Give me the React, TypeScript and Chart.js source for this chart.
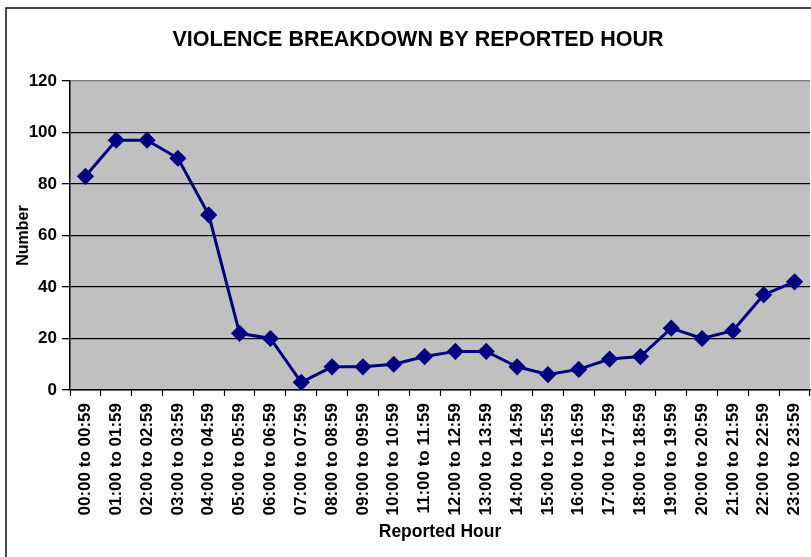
import React, { useEffect, useRef } from "react";
import { Chart, registerables } from "chart.js";

Chart.register(...registerables);

const CHART_TITLE = "VIOLENCE BREAKDOWN BY REPORTED HOUR";
const X_TITLE = "Reported Hour";
const Y_TITLE = "Number";

const HOURS = [
  "00:00 to 00:59",
  "01:00 to 01:59",
  "02:00 to 02:59",
  "03:00 to 03:59",
  "04:00 to 04:59",
  "05:00 to 05:59",
  "06:00 to 06:59",
  "07:00 to 07:59",
  "08:00 to 08:59",
  "09:00 to 09:59",
  "10:00 to 10:59",
  "11:00 to 11:59",
  "12:00 to 12:59",
  "13:00 to 13:59",
  "14:00 to 14:59",
  "15:00 to 15:59",
  "16:00 to 16:59",
  "17:00 to 17:59",
  "18:00 to 18:59",
  "19:00 to 19:59",
  "20:00 to 20:59",
  "21:00 to 21:59",
  "22:00 to 22:59",
  "23:00 to 23:59",
];

const COUNTS = [83, 97, 97, 90, 68, 22, 20, 3, 9, 9, 10, 13, 15, 15, 9, 6, 8, 12, 13, 24, 20, 23, 37, 42];

const Y_MIN = 0;
const Y_MAX = 120;
const Y_STEP = 20;

const FONT = "'Liberation Sans', Arial, sans-serif";

const framePlugin = {
  id: "frame",
  beforeDraw(chart: any) {
    const { ctx, width, height, chartArea } = chart;
    ctx.save();
    ctx.fillStyle = "#ffffff";
    ctx.fillRect(0, 0, width, height);
    ctx.strokeStyle = "#111111";
    ctx.lineWidth = 1.5;
    ctx.strokeRect(6, 8, width + 20, height + 20);
    ctx.fillStyle = "#c0c0c0";
    ctx.fillRect(chartArea.left, chartArea.top, chartArea.right - chartArea.left, chartArea.bottom - chartArea.top);
    ctx.restore();
  },
  afterDraw(chart: any) {
    const { ctx } = chart;
    ctx.save();
    ctx.fillStyle = "#000000";
    ctx.font = `bold 21.5px ${FONT}`;
    ctx.textAlign = "center";
    ctx.textBaseline = "middle";
    ctx.fillText(CHART_TITLE, 418, 40);
    ctx.restore();
  },
};

export default function App() {
  const ref = useRef<HTMLCanvasElement | null>(null);

  useEffect(() => {
    if (!ref.current) return;
    const chart = new Chart(ref.current, {
      type: "line",
      data: {
        labels: HOURS,
        datasets: [
          {
            data: COUNTS,
            borderColor: "#000080",
            backgroundColor: "#000080",
            borderWidth: 3,
            pointStyle: "rectRot",
            pointRadius: 6.5,
            pointHoverRadius: 6.5,
            pointBackgroundColor: "#000080",
            pointBorderColor: "#000080",
            tension: 0,
          },
        ],
      },
      options: {
        responsive: false,
        animation: false,
        events: [],
        layout: { autoPadding: false, padding: { top: 81, right: 1, bottom: 0, left: 0 } },
        plugins: {
          legend: { display: false },
          tooltip: { enabled: false },
          title: { display: false },
        },
        scales: {
          x: {
            type: "category",
            offset: true,
            afterFit(scale: any) {
              scale.height = 167;
              scale.paddingLeft = 0;
              scale.paddingRight = 0;
            },
            grid: {
              offset: true,
              drawOnChartArea: false,
              drawTicks: true,
              tickLength: 6,
              tickColor: "#000000",
              tickWidth: 1.2,
            },
            border: { display: true, color: "#000000", width: 1.5 },
            ticks: {
              autoSkip: false,
              minRotation: 90,
              maxRotation: 90,
              padding: 7,
              color: "#000000",
              font: { family: FONT, size: 17, weight: "bold" },
            },
            title: {
              display: true,
              text: X_TITLE,
              color: "#000000",
              font: { family: FONT, size: 17.5, weight: "bold" },
              padding: { top: 4, bottom: 14 },
            },
          },
          y: {
            min: Y_MIN,
            max: Y_MAX,
            afterFit(scale: any) {
              scale.width = 70;
            },
            grid: {
              color: (c: any) => (c.tick && c.tick.value === Y_MAX ? "#7a7a7a" : "#000000"),
              lineWidth: 1.3,
              drawTicks: true,
              tickLength: 8,
              tickColor: "#000000",
            },
            border: { display: true, color: "#000000", width: 1.5 },
            ticks: {
              stepSize: Y_STEP,
              padding: 5,
              color: "#000000",
              font: { family: FONT, size: 17, weight: "bold" },
            },
            title: {
              display: true,
              text: Y_TITLE,
              color: "#000000",
              font: { family: FONT, size: 16, weight: "bold" },
              padding: { top: 14, bottom: 4 },
            },
          },
        },
      },
      plugins: [framePlugin],
    } as any);
    return () => chart.destroy();
  }, []);

  return (
    <div style={{ position: "absolute", left: 0, top: 0, width: 811, height: 557 }}>
      <canvas ref={ref} width={811} height={557} />
    </div>
  );
}
